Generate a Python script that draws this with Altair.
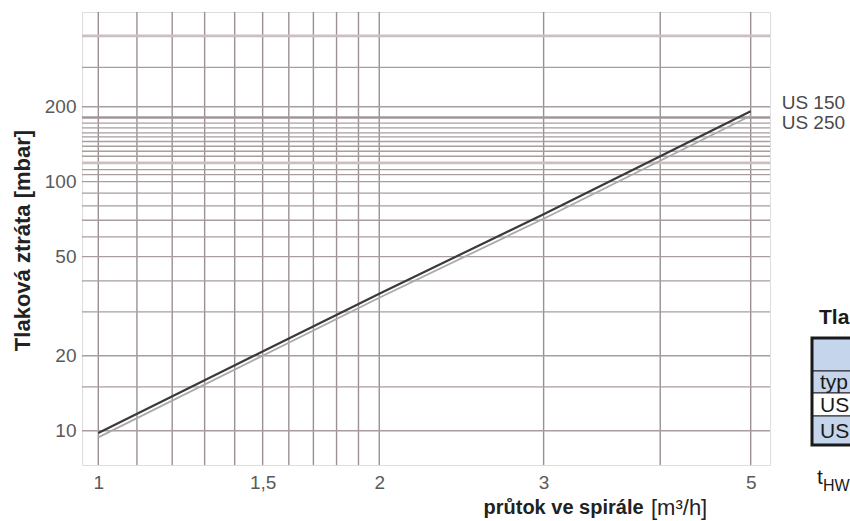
import altair as alt
import pandas as pd

# ---------------- data ----------------
flow = [1, 2, 3, 5]                      # průtok ve spirále [m3/h]
us150 = [9.8, 35.5, 74, 192]             # tlaková ztráta [mbar]
us250 = [9.4, 34.2, 71, 184]
series_names = ["US 150", "US 250"]

x_ticks = [1, 1.5, 2, 3, 5]
y_ticks = [10, 20, 50, 100, 200]
x_grid = [1, 1.1, 1.2, 1.3, 1.4, 1.5, 1.6, 1.7, 1.8, 1.9, 2, 3, 4, 5]
y_grid = [10, 15, 20, 30, 40, 50, 60, 70, 80, 90, 100, 106.7, 111.8, 126.5,
          132.5, 138.8, 145, 151.4, 157, 164.6, 172, 200, 288]
y_grid_light = [119, 385]
y_grid_heavy = [181]

x_title_bold = "průtok ve spirále"
x_title_unit = "[m³/h]"
y_title = "Tlaková ztráta [mbar]"

table_title = "Tlaková ztráta"
table_rows = ["", "typ", "US 150", "US 250"]
table_fill = ["#c4d5ec", "#c4d5ec", "#ffffff", "#c4d5ec"]
note_main = "t"
note_sub = "HW"

# ---------------- layout / style ----------------
PAD_L, PAD_T, W, H = 82, 12, 688, 453
ROW_EDGES = [338, 371, 393, 416, 445]
TABLE_X = [812, 1000]
FONT = "Liberation Sans, Arial, Helvetica, sans-serif"

xs = alt.Scale(type="log", domain=[0.9606, 5.244], nice=False)
ys = alt.Scale(type="log", domain=[7.284, 480.2], nice=False)

x_axis = alt.Axis(
    values=x_ticks, labelExpr="replace(format(datum.value, '~g'), '.', ',')",
    grid=False, ticks=False, domain=False, labelFontSize=19, labelColor="#5a5a5a",
    labelPadding=8, labelFont=FONT,
    title=x_title_bold, titleFontSize=20, titleFontWeight="bold",
    titleColor="#222", titleFont=FONT, titleX=401, titleY=42,
    titleBaseline="middle", titleAlign="left",
)
y_axis = alt.Axis(
    values=y_ticks, format="d", grid=False, ticks=False, domain=False,
    labelFontSize=19, labelColor="#5a5a5a", labelPadding=6, labelFont=FONT,
    title=y_title, titleFontSize=22, titleFontWeight="bold",
    titleColor="#222", titleFont=FONT, titleX=-60, titleY=228,
    titleBaseline="middle", titleAlign="center", titleAngle=270,
)

gx = pd.DataFrame({"flow": x_grid})
gy = pd.DataFrame({"loss": y_grid})
gyl = pd.DataFrame({"loss": y_grid_light})
gyh = pd.DataFrame({"loss": y_grid_heavy})

grid_v = alt.Chart(gx).mark_rule(color="#9a9093", strokeWidth=1.4).encode(
    x=alt.X("flow:Q", scale=xs, axis=x_axis))
grid_h = alt.Chart(gy).mark_rule(color="#a89e9e", strokeWidth=1.3).encode(
    y=alt.Y("loss:Q", scale=ys, axis=y_axis))
grid_hl = alt.Chart(gyl).mark_rule(color="#cdbfbf", strokeWidth=2.6).encode(
    y=alt.Y("loss:Q", scale=ys, axis=y_axis))
grid_hh = alt.Chart(gyh).mark_rule(color="#a0979a", strokeWidth=2.6).encode(
    y=alt.Y("loss:Q", scale=ys, axis=y_axis))

lines_df = pd.DataFrame({
    "flow": flow + flow,
    "loss": us150 + us250,
    "series": [series_names[0]] * len(flow) + [series_names[1]] * len(flow),
})

def line_layer(name, color, width):
    return alt.Chart(lines_df).transform_filter(alt.datum.series == name).mark_line(
        color=color, strokeWidth=width).encode(
        x=alt.X("flow:Q", scale=xs, axis=x_axis),
        y=alt.Y("loss:Q", scale=ys, axis=y_axis))

l250 = line_layer(series_names[1], "#a9a9a9", 1.8)
l150 = line_layer(series_names[0], "#3a3a3a", 2.2)

end_df = pd.DataFrame({"flow": [flow[-1], flow[-1]], "loss": [us150[-1], us250[-1]],
                       "series": series_names})

def end_label(name, dy):
    return alt.Chart(end_df).transform_filter(alt.datum.series == name).mark_text(
        align="left", baseline="middle", dx=31, dy=dy, fontSize=19,
        color="#4a4a4a", font=FONT).encode(
        x=alt.X("flow:Q", scale=xs, axis=x_axis),
        y=alt.Y("loss:Q", scale=ys, axis=y_axis),
        text="series:N")

main = alt.layer(grid_v, grid_h, grid_hl, grid_hh, l250, l150,
                 end_label(series_names[0], -8), end_label(series_names[1], 7))

# ---------------- page-layout layer: unit text, table fragment ----------------
px = alt.Scale(domain=[0, 850], range=[-PAD_L, 850 - PAD_L])
py = alt.Scale(domain=[0, 521], range=[-PAD_T, 521 - PAD_T])

rows_df = pd.DataFrame({
    "label": table_rows, "fill": table_fill,
    "y0": ROW_EDGES[:-1], "y1": ROW_EDGES[1:],
    "x0": TABLE_X[0], "x1": TABLE_X[1],
})
rows_df["yc"] = (rows_df["y0"] + rows_df["y1"]) / 2 + 1
rows_df["xt"] = TABLE_X[0] + 8

cells = alt.Chart(rows_df).mark_rect(stroke="#222", strokeWidth=1.2).encode(
    x=alt.X("x0:Q", scale=px, axis=None), x2="x1:Q",
    y=alt.Y("y0:Q", scale=py, axis=None), y2="y1:Q",
    fill=alt.Fill("fill:N", scale=None))
outer = alt.Chart(pd.DataFrame({"x0": [TABLE_X[0]], "x1": [TABLE_X[1]],
                                "y0": [ROW_EDGES[0]], "y1": [ROW_EDGES[-1]]})).mark_rect(
    fillOpacity=0, stroke="#1a1a1a", strokeWidth=3).encode(
    x=alt.X("x0:Q", scale=px, axis=None), x2="x1:Q",
    y=alt.Y("y0:Q", scale=py, axis=None), y2="y1:Q")
cell_text = alt.Chart(rows_df).mark_text(align="left", baseline="middle", fontSize=21,
                                         color="#1a1a1a", font=FONT).encode(
    x=alt.X("xt:Q", scale=px, axis=None), y=alt.Y("yc:Q", scale=py, axis=None),
    text="label:N")

notes_df = pd.DataFrame({
    "text": [table_title, note_main, note_sub, x_title_unit],
    "x": [819, 817, 823, 651], "y": [318, 478, 486, 508],
})

def note(i, size, weight="normal", color="#1a1a1a"):
    return alt.Chart(notes_df.iloc[[i]]).mark_text(
        align="left", baseline="middle", fontSize=size, fontWeight=weight,
        color=color, font=FONT).encode(
        x=alt.X("x:Q", scale=px, axis=None), y=alt.Y("y:Q", scale=py, axis=None),
        text="text:N")

table = alt.layer(cells, outer, cell_text,
                  note(0, 21, "bold"), note(1, 21), note(2, 16), note(3, 22, "normal", "#222"))

chart = alt.layer(main, table).resolve_scale(x="independent", y="independent").properties(
    width=W, height=H,
    autosize=alt.AutoSizeParams(type="none"),
    padding={"left": PAD_L, "top": PAD_T, "right": 850 - PAD_L - W, "bottom": 521 - PAD_T - H},
).configure_view(fill="#eeeceb", stroke="#cfc8c8", strokeWidth=1.5
).configure(background="white", font=FONT)

chart.save("out.html", embed_options={"renderer": "svg", "actions": False})
